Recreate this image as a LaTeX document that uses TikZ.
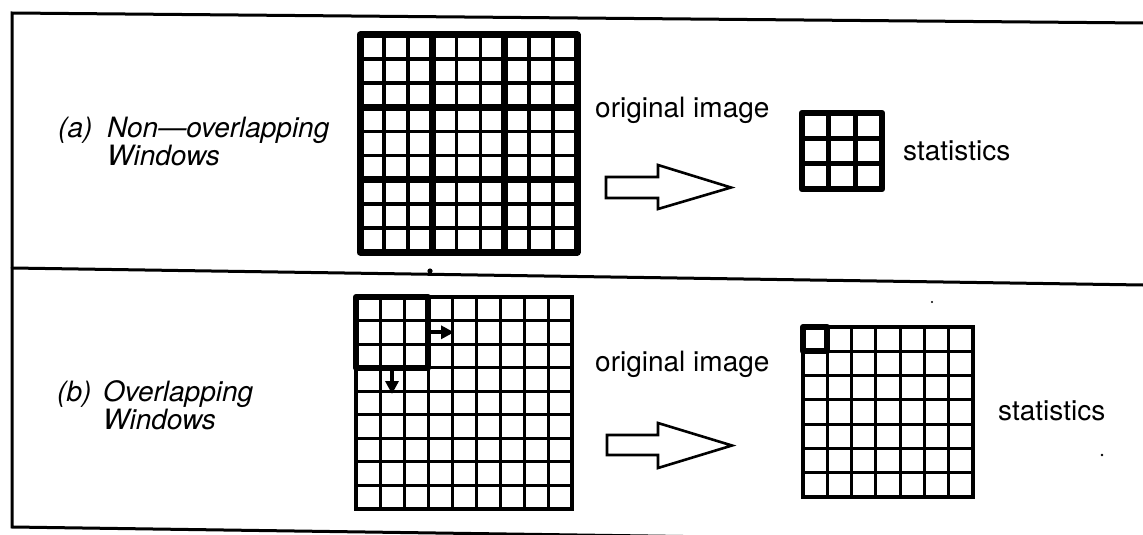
\documentclass[tikz,border=0pt]{standalone}
\usepackage{fontspec}
\setmainfont{TeX Gyre Heros}
\usetikzlibrary{arrows.meta}
\tikzset{
  frameline/.style={line width=3pt, line cap=round},
  thingrid/.style={line width=3pt},
  topgrid/.style={line width=3.8pt},
  thickgrid/.style={line width=7pt, line join=round},
  hollowarrow/.style={line width=2.6pt, line join=miter, fill=white},
  lbl/.style={inner sep=0pt, anchor=base west, font=\fontsize{28}{30}\selectfont},
  ilbl/.style={inner sep=0pt, anchor=base west, font=\fontsize{28}{30}\selectfont\itshape},
  movearrow/.style={line width=4pt, -{Triangle[length=13pt,width=13pt]}},
  speck/.style={fill=black, draw=none}
}
\begin{document}
\begin{tikzpicture}[x=1pt,y=-1pt]
\useasboundingbox (0,0) rectangle (1143,535);
\begin{scope}
\clip (0,0) rectangle (1143,535);
% outer frame (slightly skewed like the scan)
\draw[frameline] (1143,23) -- (12,13) -- (12,527) -- (1143,543);
\draw[frameline] (12,268) -- (1143,285);
\end{scope}

% ---------- (a) non-overlapping ----------
\node[ilbl] (la) at (58,137) {(a)};
\node[ilbl] (la1) at (107,137) {Non—overlapping};
\node[ilbl] (la2) at (107,165) {Windows};

% grid A: 9x9, thick every 3
\foreach \i in {1,2,4,5,7,8} {
  \draw[topgrid] ({360+\i*24.111},35) -- ({360+\i*24.111},252);
  \draw[topgrid] (360,{35+\i*24.111}) -- (577,{35+\i*24.111});
}
\foreach \i in {3,6} {
  \draw[thickgrid] ({360+\i*24.111},35) -- ({360+\i*24.111},252);
  \draw[thickgrid] (360,{35+\i*24.111}) -- (577,{35+\i*24.111});
}
\draw[thickgrid] (360,35) rectangle (577,252);

\node[lbl] (oa) at (595,117) {original image};

\draw[hollowarrow] (606,177) -- (658,177) -- (658,165) -- (731,187.5) -- (658,209) -- (658,198) -- (606,198) -- cycle;

% statistics grid (3x3)
\foreach \i in {1,2} {
  \draw[line width=5pt] ({802+\i*26.667},113) -- ({802+\i*26.667},189);
  \draw[line width=5pt] (802,{113+\i*25.333}) -- (882,{113+\i*25.333});
}
\draw[line width=6.5pt, line join=round] (802,113) rectangle (882,189);
\node[lbl] (sa) at (903,160) {statistics};

% ---------- (b) overlapping ----------
\node[ilbl] (lb) at (57,401) {(b)};
\node[ilbl] (lb1) at (103,401) {Overlapping};
\node[ilbl] (lb2) at (103,429) {Windows};

% grid B: 9x9
\foreach \i in {1,...,8} {
  \draw[thingrid] ({356+\i*24},297) -- ({356+\i*24},509);
  \draw[thingrid] (356,{297+\i*23.556}) -- (572,{297+\i*23.556});
}
\draw[line width=3.5pt] (356,297) rectangle (572,509);
\draw[line width=6pt, line join=round] (356,297) rectangle (428,367.7);
\coordinate (r0) at (428,332.3);
\coordinate (r1) at (454,332.3);
\coordinate (d0) at (392,367.7);
\coordinate (d1) at (392,394);
\draw[movearrow] (r0) -- (r1);
\draw[movearrow] (d0) -- (d1);

\node[lbl] (ob) at (595,371) {original image};

\draw[hollowarrow] (607,435) -- (658,435) -- (658,423) -- (732,445.5) -- (658,468) -- (658,455) -- (607,455) -- cycle;

% statistics grid C: 7x7
\foreach \i in {1,...,6} {
  \draw[thingrid] ({803+\i*24.286},327) -- ({803+\i*24.286},497);
  \draw[thingrid] (803,{327+\i*24.286}) -- (973,{327+\i*24.286});
}
\draw[line width=3.5pt] (803,327) rectangle (973,497);
\draw[line width=6pt, line join=round] (803,327) rectangle (827.3,351.3);
\node[lbl] (sb) at (998,420) {statistics};

% scan specks
\fill[speck] (430,271) circle (2.6);
\fill[speck] (932,302) circle (1.1);
\fill[speck] (1102,455) circle (1.3);
\end{tikzpicture}
\end{document}
